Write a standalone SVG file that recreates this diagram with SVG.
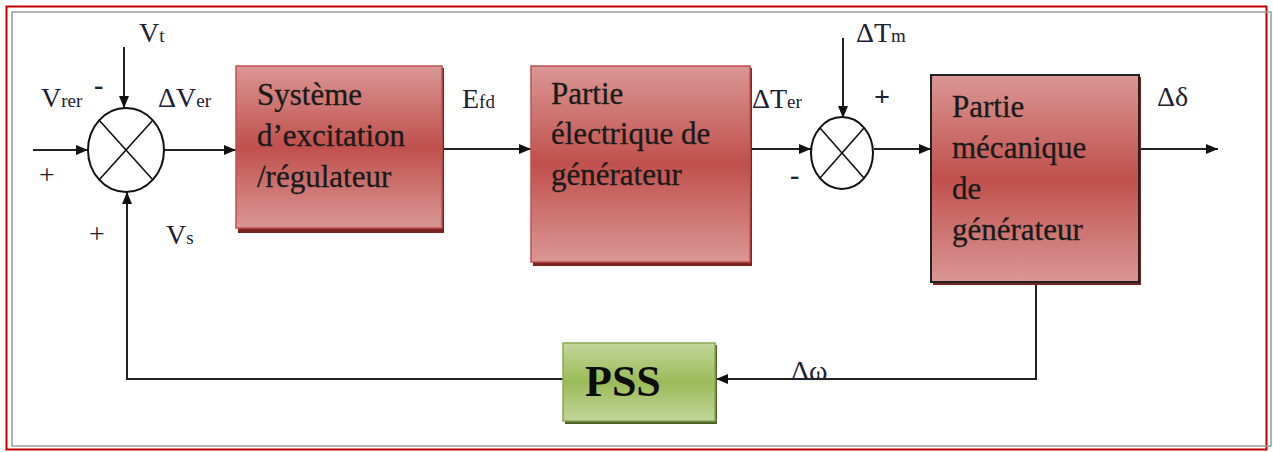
<svg xmlns="http://www.w3.org/2000/svg" width="1273" height="452" viewBox="0 0 1273 452">
<defs>
<linearGradient id="gRed" x1="0" y1="0" x2="0" y2="1">
<stop offset="0" stop-color="#da9795"/>
<stop offset="0.5" stop-color="#c0504d"/>
<stop offset="1" stop-color="#da9795"/>
</linearGradient>
<linearGradient id="gGreen" x1="0" y1="0" x2="0" y2="1">
<stop offset="0" stop-color="#c3d69b"/>
<stop offset="0.5" stop-color="#9bbb59"/>
<stop offset="1" stop-color="#c3d69b"/>
</linearGradient>
<marker id="arr" viewBox="0 0 12 10" refX="12" refY="5" markerWidth="12" markerHeight="10" markerUnits="userSpaceOnUse" orient="auto">
<path d="M0,0 L12,5 L0,10 Z" fill="#111"/>
</marker>
</defs>
<style>
.frame{fill:none}
.conn{fill:none;stroke:#222;stroke-width:2}
.sum{fill:#fff;stroke:#111;stroke-width:2}
.cross{stroke:#111;stroke-width:1.6}
.box{font-family:'Liberation Serif','Times New Roman',serif;font-size:31px;fill:#1a1a1a;stroke:#1a1a1a;stroke-width:0.3}
.lbl{font-family:'Liberation Serif','Times New Roman',serif;font-size:28px;fill:#1c2033}
.sub{font-size:19px}
.shR{fill:#7a2422}
.shG{fill:#4f6228}
</style>
<rect class="frame" x="6.5" y="6.5" width="1260" height="443" stroke="#c00000" stroke-width="2"/>
<rect class="frame" x="12" y="12" width="1259" height="434" stroke="#9a9a9a" stroke-width="1.5"/>

<g id="connectors">
<path class="conn" d="M33,150 H88" marker-end="url(#arr)"/>
<path class="conn" d="M124,47 V108" marker-end="url(#arr)"/>
<path class="conn" d="M164,150 H236" marker-end="url(#arr)"/>
<path class="conn" d="M443,149 H531" marker-end="url(#arr)"/>
<path class="conn" d="M751,149 H811" marker-end="url(#arr)"/>
<path class="conn" d="M843,38 V118" marker-end="url(#arr)"/>
<path class="conn" d="M874,149 H931" marker-end="url(#arr)"/>
<path class="conn" d="M1139,149 H1218" marker-end="url(#arr)"/>
<path class="conn" d="M1036,283 V379 H716" marker-end="url(#arr)"/>
<path class="conn" d="M563,379 H127 V192" marker-end="url(#arr)"/>
</g>

<g id="sum1">
<ellipse class="sum" cx="126" cy="150" rx="38" ry="42"/>
<line class="cross" x1="99" y1="120" x2="153" y2="180"/>
<line class="cross" x1="153" y1="120" x2="99" y2="180"/>
</g>
<g id="sum2">
<ellipse class="sum" cx="842" cy="153" rx="31" ry="36"/>
<line class="cross" x1="820" y1="128" x2="864" y2="178"/>
<line class="cross" x1="864" y1="128" x2="820" y2="178"/>
</g>

<g id="excitation">
<rect class="shR" x="238" y="68" width="206" height="165"/>
<rect x="236" y="66" width="206" height="162" fill="url(#gRed)" stroke="#c0504d" stroke-width="1.5"/>
<text class="box" x="257" y="105">Système</text>
<text class="box" x="257" y="146">d’excitation</text>
<text class="box" x="257" y="187">/régulateur</text>
</g>

<g id="electrique">
<rect class="shR" x="533" y="68" width="219" height="198"/>
<rect x="531" y="66" width="219" height="196" fill="url(#gRed)" stroke="#c0504d" stroke-width="1.5"/>
<text class="box" x="551" y="104">Partie</text>
<text class="box" x="551" y="144">électrique de</text>
<text class="box" x="551" y="185">générateur</text>
</g>

<g id="mecanique">
<rect class="shR" x="933" y="77" width="208" height="208"/>
<rect x="931" y="75" width="208" height="207" fill="url(#gRed)" stroke="#222" stroke-width="2"/>
<text class="box" x="952" y="117">Partie</text>
<text class="box" x="952" y="158">mécanique</text>
<text class="box" x="952" y="199">de</text>
<text class="box" x="952" y="240">générateur</text>
</g>

<g id="pss">
<rect class="shG" x="565" y="345" width="152" height="79"/>
<rect x="563" y="343" width="152" height="78" fill="url(#gGreen)" stroke="#8aa656" stroke-width="1.5"/>
<text x="585" y="396" font-family="Liberation Serif, Times New Roman, serif" font-size="44" font-weight="bold" fill="#0d0d0d">PSS</text>
</g>

<g id="labels">
<text class="lbl" x="139" y="42">V<tspan class="sub">t</tspan></text>
<text class="lbl" x="41" y="107">V<tspan class="sub">rer</tspan></text>
<text class="lbl" x="94" y="94" font-size="28" font-weight="bold" fill="#111">-</text>
<text class="lbl" x="158" y="107">ΔV<tspan class="sub">er</tspan></text>
<text class="lbl" x="39" y="184" font-size="16" fill="#4a6aa0">+</text>
<text class="lbl" x="89" y="243" font-size="24" fill="#7a6a60">+</text>
<text class="lbl" x="166" y="244">V<tspan class="sub">s</tspan></text>
<text class="lbl" x="462" y="108">E<tspan class="sub">fd</tspan></text>
<text class="lbl" x="752" y="108">ΔT<tspan class="sub">er</tspan></text>
<text class="lbl" x="856" y="42">ΔT<tspan class="sub">m</tspan></text>
<text class="lbl" x="874" y="106" font-size="32" font-weight="bold" fill="#111">+</text>
<text class="lbl" x="790" y="184" font-size="34" font-weight="bold" fill="#111">-</text>
<text class="lbl" x="1157" y="106">Δδ</text>
<text class="lbl" x="791" y="380">Δω</text>
</g>
</svg>
